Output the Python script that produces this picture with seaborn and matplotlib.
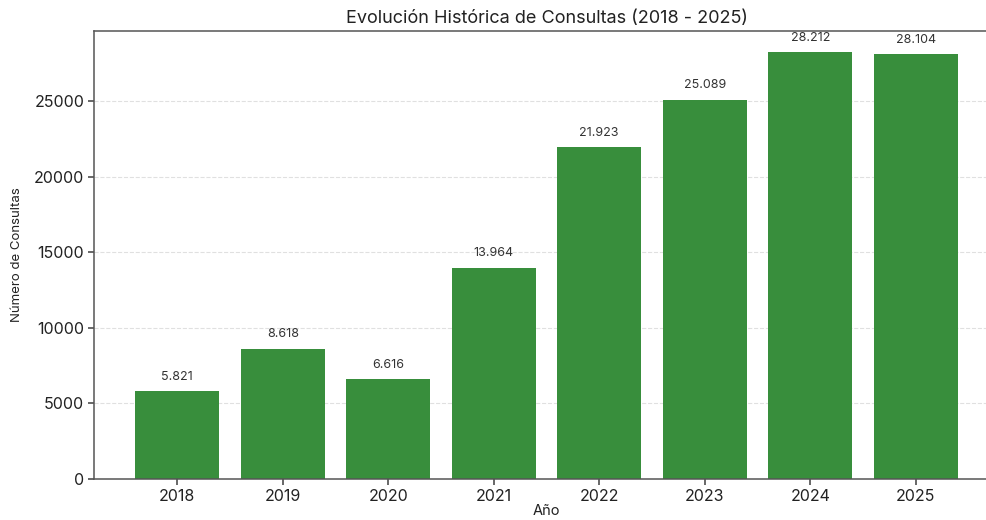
import pandas as pd
import matplotlib
matplotlib.use("Agg")
import matplotlib.pyplot as plt
import seaborn as sns

years = ["2018", "2019", "2020", "2021", "2022", "2023", "2024", "2025"]
consultas = [5821, 8618, 6616, 13964, 21923, 25089, 28212, 28104]

data = pd.DataFrame({"anio": years, "consultas": consultas})

sns.set_theme(style="ticks")
plt.rcParams["font.family"] = ["Inter", "DejaVu Sans"]

fig = plt.figure(figsize=(9.87, 5.2), dpi=100)
ax = fig.add_axes([0.0952, 0.0788, 0.917, 0.8616])

sns.barplot(x="anio", y="consultas", data=data, color="#388E3C",
            saturation=1, width=0.8, linewidth=0, ax=ax)

# etiquetas con separador de miles
for i, v in enumerate(consultas):
    ax.annotate(f"{v:,}".replace(",", "."), (i, v), xytext=(0, 6),
                textcoords="offset points", ha="center", va="bottom",
                fontsize=9, color="#333333")

ax.set_xlim(-0.79, 7.79)
ax.set_ylim(0, max(consultas) * 1.05)
ax.set_yticks([0, 5000, 10000, 15000, 20000, 25000])
ax.yaxis.grid(True, linestyle="--", color="#e0e0e0", linewidth=0.8)
ax.set_axisbelow(True)

for s in ["left", "bottom", "top", "right"]:
    ax.spines[s].set_color("#555555")
    ax.spines[s].set_linewidth(1.1)

ax.tick_params(axis="both", labelsize=11.5, colors="#555555", labelcolor="#222222",
               length=4, pad=3)
ax.set_title("Evolución Histórica de Consultas (2018 - 2025)", fontsize=13,
             color="#222222", pad=6)
ax.set_xlabel("Año", fontsize=10.5, color="#222222", labelpad=0)
ax.set_ylabel("Número de Consultas", fontsize=9.5, color="#222222", labelpad=8)

fig.savefig("out.png", dpi=100)
